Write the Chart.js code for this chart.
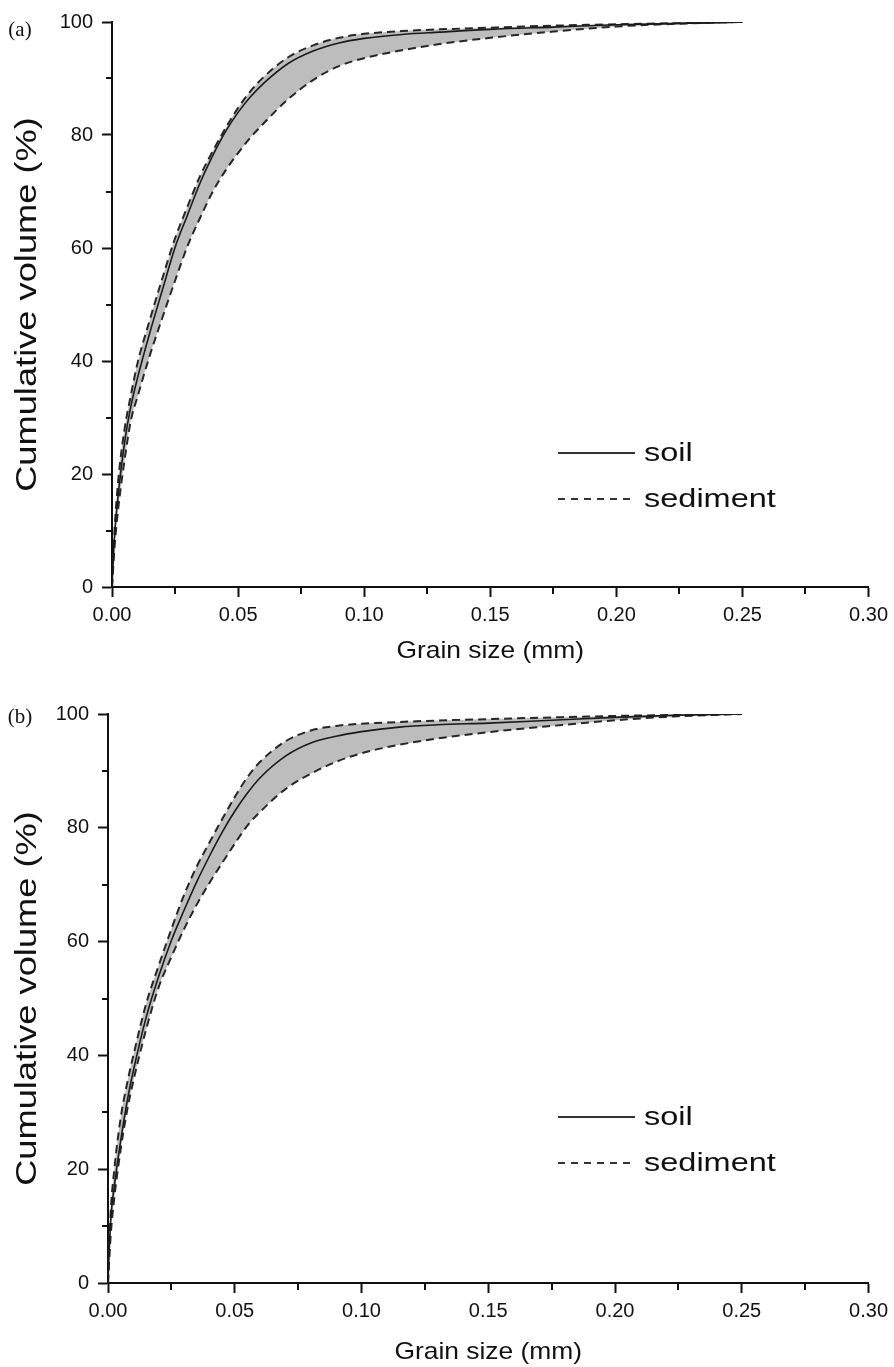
<!DOCTYPE html>
<html>
<head>
<meta charset="utf-8">
<script src="https://cdn.jsdelivr.net/npm/chart.js@4.4.1/dist/chart.umd.min.js"></script>
<style>
  body { margin: 0; background: #fff; }
  .panel { position: absolute; left: 0; }
</style>
</head>
<body>
<canvas id="chartA" class="panel" width="894" height="683" style="top:0"></canvas>
<canvas id="chartB" class="panel" width="894" height="684" style="top:683px"></canvas>
<script>
// grain size (mm) shared by every curve
const grainSize = [0, 0.001, 0.0025, 0.005, 0.0075, 0.01, 0.015, 0.02, 0.025, 0.03, 0.035, 0.04, 0.045, 0.05, 0.055, 0.06, 0.07, 0.08, 0.09, 0.10, 0.115, 0.13, 0.15, 0.175, 0.20, 0.225, 0.25];

// panel (a), cumulative volume (%)
const soilA = [0, 9, 16.5, 25.6, 32, 36.8, 45, 52.6, 60.1, 65.9, 71.6, 76.4, 80.6, 84.0, 86.8, 89.1, 92.7, 94.9, 96.3, 97.1, 97.8, 98.2, 98.7, 99.1, 99.5, 99.75, 100];
const sedUpperA = [0, 10, 19, 28, 34, 39.4, 47.3, 54.7, 61.7, 67.4, 72.8, 77.2, 81.2, 84.8, 87.8, 90.2, 93.8, 95.9, 97.2, 97.9, 98.4, 98.7, 99.0, 99.35, 99.6, 99.8, 100];
const sedLowerA = [0, 7, 14, 22.5, 29.5, 33.5, 41, 47.7, 54.2, 60.4, 65.4, 70, 73.7, 76.8, 79.6, 82.0, 86.4, 89.8, 92.2, 93.6, 95.0, 96.1, 97.2, 98.3, 99.2, 99.7, 100];

// panel (b), cumulative volume (%)
const soilB = [0, 10.7, 17, 25, 31.8, 37.3, 46.6, 53.9, 60.2, 65.5, 70.5, 75, 79.2, 82.9, 86.1, 88.8, 92.6, 94.9, 96.1, 96.9, 97.7, 98.1, 98.4, 98.9, 99.4, 99.8, 100];
const sedUpperB = [0, 12, 20, 29, 35, 40, 49, 55.8, 62.2, 68.2, 73.2, 77.4, 81.5, 85.4, 88.9, 91.6, 95.2, 97.1, 97.9, 98.3, 98.6, 98.85, 99.1, 99.4, 99.65, 99.85, 100];
const sedLowerB = [0, 8, 15, 23.5, 30.2, 35.5, 44.5, 52, 57.3, 62.2, 66.5, 70.3, 73.8, 77.2, 80.4, 82.8, 86.8, 89.5, 91.6, 93.1, 94.6, 95.7, 96.8, 97.9, 98.9, 99.6, 100];

// minor tick positions
const minorX = [0.025, 0.075, 0.125, 0.175, 0.225, 0.275];
const minorY = [10, 30, 50, 70, 90];

const FONT = "'Liberation Sans', Arial, sans-serif";
const INK = '#111';

const toPoints = (ys) => grainSize.map((x, i) => ({ x: x, y: ys[i] }));

// draws minor ticks, panel letter, axis titles and legend
const decor = {
  id: 'decor',
  afterDraw(chart, args, o) {
    const { ctx, chartArea: ca, scales: { x, y } } = chart;
    ctx.save();
    ctx.strokeStyle = INK;
    ctx.lineWidth = 2;
    ctx.beginPath();
    minorX.forEach(v => {
      const px = Math.round(x.getPixelForValue(v));
      ctx.moveTo(px, ca.bottom); ctx.lineTo(px, ca.bottom + 7);
    });
    minorY.forEach(v => {
      const py = Math.round(y.getPixelForValue(v));
      ctx.moveTo(ca.left, py); ctx.lineTo(ca.left - 6, py);
    });
    ctx.stroke();

    ctx.fillStyle = INK;
    ctx.textBaseline = 'middle';

    // panel letter
    ctx.font = "21px 'Liberation Serif', serif";
    ctx.textAlign = 'center';
    ctx.fillText(o.panel, 20, ca.top + o.panelDy);

    // y title
    ctx.save();
    ctx.translate(28, (ca.top + ca.bottom) / 2);
    ctx.rotate(-Math.PI / 2);
    ctx.scale(1.25, 1);
    ctx.font = '29px ' + FONT;
    ctx.fillText('Cumulative volume (%)', 0, 0);
    ctx.restore();

    // x title
    ctx.save();
    ctx.translate((ca.left + ca.right) / 2, ca.bottom + o.xTitleDy);
    ctx.scale(1.1, 1);
    ctx.font = '24px ' + FONT;
    ctx.fillText('Grain size (mm)', 0, 0);
    ctx.restore();

    // legend
    ctx.strokeStyle = '#333';
    ctx.beginPath();
    ctx.moveTo(558, o.soilY); ctx.lineTo(635, o.soilY);
    ctx.stroke();
    ctx.setLineDash([7, 6]);
    ctx.beginPath();
    ctx.moveTo(558, o.sedY); ctx.lineTo(635, o.sedY);
    ctx.stroke();
    ctx.setLineDash([]);
    ctx.textAlign = 'left';
    ctx.font = '25px ' + FONT;
    [['soil', o.soilY], ['sediment', o.sedY]].forEach(([t, ty]) => {
      ctx.save();
      ctx.translate(644, ty + 1);
      ctx.scale(1.3, 1);
      ctx.fillText(t, 0, 0);
      ctx.restore();
    });
    ctx.restore();
  }
};

function makeChart(id, soil, upper, lower, lay) {
  const tickFont = { family: FONT, size: 20 };
  return new Chart(document.getElementById(id), {
    type: 'line',
    data: {
      datasets: [
        { label: 'soil', data: toPoints(soil), borderColor: '#1a1a1a', borderWidth: 1.6, fill: false },
        { label: 'sediment', data: toPoints(upper), borderColor: '#262626', borderWidth: 2, borderDash: [8, 5], fill: '+1', backgroundColor: '#bdbdbd' },
        { label: 'sediment', data: toPoints(lower), borderColor: '#262626', borderWidth: 2, borderDash: [8, 5], fill: false }
      ]
    },
    options: {
      responsive: false,
      animation: false,
      elements: { point: { radius: 0 }, line: { cubicInterpolationMode: 'monotone' } },
      layout: { padding: { top: lay.top, right: 24, left: 0, bottom: 0 } },
      plugins: {
        legend: { display: false },
        tooltip: { enabled: false },
        filler: { drawTime: 'beforeDatasetsDraw' },
        decor: lay
      },
      scales: {
        x: {
          type: 'linear', min: 0, max: 0.3,
          afterFit: (s) => { s.height = lay.xAxisH; },
          ticks: { stepSize: 0.05, callback: v => v.toFixed(2), font: tickFont, color: INK, padding: 6, maxRotation: 0, autoSkip: false },
          grid: { drawOnChartArea: false, tickLength: 10, tickWidth: 2, tickColor: INK },
          border: { color: INK, width: 2 }
        },
        y: {
          min: 0, max: 100,
          afterFit: (s) => { s.width = lay.left; },
          ticks: { stepSize: 20, font: tickFont, color: INK, padding: 9 },
          grid: { drawOnChartArea: false, tickLength: 10, tickWidth: 2, tickColor: INK },
          border: { color: INK, width: 2 }
        }
      }
    },
    plugins: [decor]
  });
}

makeChart('chartA', soilA, sedUpperA, sedLowerA,
  { top: 22, left: 112, xAxisH: 96, panel: '(a)', panelDy: 8, xTitleDy: 64, soilY: 453, sedY: 499 });
makeChart('chartB', soilB, sedUpperB, sedLowerB,
  { top: 31, left: 108, xAxisH: 84, panel: '(b)', panelDy: 3, xTitleDy: 69, soilY: 434, sedY: 480 });
</script>
</body>
</html>
